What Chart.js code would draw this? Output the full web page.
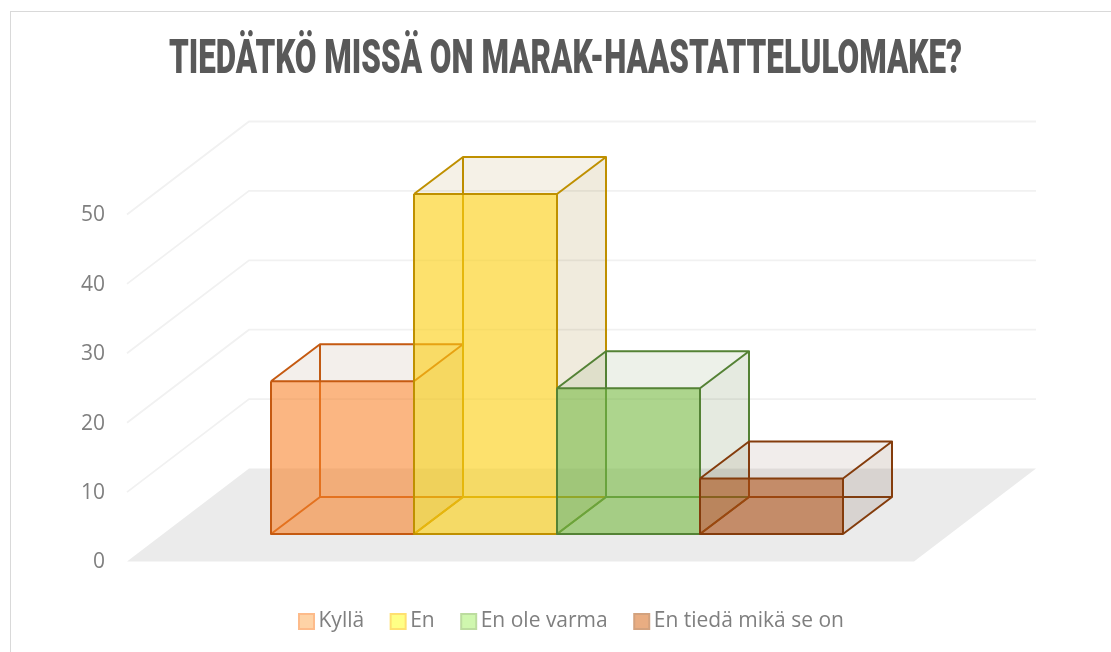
<!DOCTYPE html>
<html>
<head>
<meta charset="utf-8">
<script src="https://cdn.jsdelivr.net/npm/chart.js@4/dist/chart.umd.min.js"></script>
<style>
    html, body { margin: 0; background: #fff; overflow: hidden; }
    #wrap { position: relative; width: 1111px; height: 652px; }
    /* chart frame: runs off the right and bottom of the picture */
    #frame { position: absolute; left: 10px; top: 11px; right: -4px; bottom: -4px; border: 1.5px solid #d9d9d9; }
</style>
</head>
<body>
<div id="wrap">
    <canvas id="chart"></canvas>
    <div id="frame"></div>
</div>
<script>
const titleText = 'TIEDÄTKÖ MISSÄ ON MARAK-HAASTATTELULOMAKE?';
const categories = ['Vastaukset'];
const seriesNames = ['Kyllä', 'En', 'En ole varma', 'En tiedä mikä se on'];
const seriesValues = [22, 49, 21, 8];
const yMax = 50;
const yStep = 10;

const frontColors = ['rgba(252,132,43,.57)', 'rgba(255,210,20,.6)', 'rgba(120,187,68,.58)', 'rgba(172,77,17,.58)'];
const edgeColors = ['197,90,17', '191,144,0', '84,130,53', '132,60,12'];
const sideColors = ['140,90,50', '148,122,28', '75,108,48', '110,80,50'];
const swatchFills = ['#fed3a6', '#ffff85', '#cff7ae', '#e9ad82'];
const swatchEdges = ['#fdbb8a', '#ffe070', '#bcdc9f', '#d3a27e'];

// the fake 3D: how far the back wall and a box go into the picture
const wallDepth = { x: 122, y: -93 };
const boxDepth = { x: 49, y: -37 };
const boxShift = { x: 36.5, y: -27.5 };

function face(ctx, pts, fill) {
    ctx.beginPath();
    pts.forEach((p, i) => i ? ctx.lineTo(p[0], p[1]) : ctx.moveTo(p[0], p[1]));
    ctx.closePath();
    ctx.fillStyle = fill;
    ctx.fill();
}

function edges(ctx, lines, color) {
    ctx.strokeStyle = color;
    ctx.lineWidth = 2;
    ctx.lineJoin = 'round';
    ctx.beginPath();
    lines.forEach(l => {
        l.forEach((p, i) => i ? ctx.lineTo(p[0], p[1]) : ctx.moveTo(p[0], p[1]));
    });
    ctx.stroke();
}

function drawBox(ctx, bar, i) {
    const x0 = bar.x - bar.width / 2 + boxShift.x;
    const x1 = bar.x + bar.width / 2 + boxShift.x;
    const y0 = bar.y + boxShift.y;
    const y1 = bar.base + boxShift.y;
    const dx = boxDepth.x, dy = boxDepth.y;
    const edge = 'rgb(' + edgeColors[i] + ')';
    const soft = 'rgba(' + sideColors[i] + ',.05)';

    // faces behind the front
    face(ctx, [[x0, y1], [x1, y1], [x1 + dx, y1 + dy], [x0 + dx, y1 + dy]], soft);
    face(ctx, [[x0, y0], [x0 + dx, y0 + dy], [x0 + dx, y1 + dy], [x0, y1]], soft);
    face(ctx, [[x0 + dx, y0 + dy], [x1 + dx, y0 + dy], [x1 + dx, y1 + dy], [x0 + dx, y1 + dy]], soft);
    edges(ctx, [
        [[x0, y1], [x0 + dx, y1 + dy], [x1 + dx, y1 + dy]],
        [[x0 + dx, y0 + dy], [x0 + dx, y1 + dy]]
    ], edge);

    // the front is the real bar element, only moved onto the floor
    ctx.save();
    ctx.translate(boxShift.x, boxShift.y);
    bar.draw(ctx);
    ctx.restore();

    face(ctx, [[x1, y0], [x1 + dx, y0 + dy], [x1 + dx, y1 + dy], [x1, y1]], 'rgba(' + sideColors[i] + ',.1)');
    face(ctx, [[x0, y0], [x0 + dx, y0 + dy], [x1 + dx, y0 + dy], [x1, y0]], soft);
    edges(ctx, [
        [[x0, y0], [x1, y0], [x1, y1], [x0, y1], [x0, y0]],
        [[x0, y0], [x0 + dx, y0 + dy], [x1 + dx, y0 + dy], [x1 + dx, y1 + dy], [x1, y1]],
        [[x1, y0], [x1 + dx, y0 + dy]]
    ], edge);
}

const box3d = {
    id: 'box3d',
    beforeDatasetsDraw(chart) {
        const ctx = chart.ctx;
        const y = chart.scales.y;
        const area = chart.chartArea;
        const floor = y.getPixelForValue(0);

        ctx.save();
        face(ctx, [
            [area.left, floor],
            [area.right, floor],
            [area.right + wallDepth.x, floor + wallDepth.y],
            [area.left + wallDepth.x, floor + wallDepth.y]
        ], '#ebebeb');

        ctx.strokeStyle = '#f1f1f1';
        ctx.lineWidth = 1.8;
        y.ticks.forEach(t => {
            if (t.value === 0) return;
            const py = y.getPixelForValue(t.value);
            ctx.beginPath();
            ctx.moveTo(area.left, py);
            ctx.lineTo(area.left + wallDepth.x, py + wallDepth.y);
            ctx.lineTo(area.right + wallDepth.x, py + wallDepth.y);
            ctx.stroke();
        });

        // series in their own order, later boxes lie over earlier ones
        chart.data.datasets.forEach((ds, i) => {
            chart.getDatasetMeta(i).data.forEach(bar => drawBox(ctx, bar, i));
        });
        ctx.restore();
        return false;
    }
};

// title font is wider than the original, so squeeze it to 793px and move it over
const titleFit = {
    id: 'titleFit',
    afterLayout(chart) {
        const box = chart.titleBlock;
        if (box._fitted) return;
        box._fitted = true;
        const draw = box.draw;
        box.draw = function () {
            const ctx = chart.ctx;
            const { left, right } = box;
            ctx.save();
            ctx.font = Chart.helpers.toFont(box.options.font).string;
            const squeeze = 793 / ctx.measureText(titleText).width;
            ctx.translate(565.5, 0);
            ctx.scale(squeeze, 1);
            // wide box so the title plugin does not shrink the text by itself
            box.left = -2000;
            box.right = 2000;
            draw.call(box);
            box.left = left;
            box.right = right;
            ctx.restore();
        };
    }
};

// legend row, the gap between swatch and text is tighter than the built-in one
const legendRow = {
    id: 'legendRow',
    afterDraw(chart) {
        const ctx = chart.ctx;
        let x = 299;
        ctx.save();
        ctx.font = "21px 'Open Sans'";
        ctx.textBaseline = 'middle';
        seriesNames.forEach((name, i) => {
            ctx.fillStyle = swatchFills[i];
            ctx.strokeStyle = swatchEdges[i];
            ctx.lineWidth = 2;
            ctx.fillRect(x, 614, 15, 15);
            ctx.strokeRect(x, 614, 15, 15);
            ctx.fillStyle = '#7f7f7f';
            ctx.fillText(name, x + 19.5, 621);
            x += 19.5 + ctx.measureText(name).width + 26.5;
        });
        ctx.restore();
    }
};

new Chart(document.getElementById('chart'), {
    type: 'bar',
    data: {
        labels: categories,
        datasets: seriesNames.map((name, i) => ({
            label: name,
            data: [seriesValues[i]],
            backgroundColor: frontColors[i],
            borderWidth: 0,
            barPercentage: 1,
            categoryPercentage: 572 / 787
        }))
    },
    options: {
        responsive: true,
        maintainAspectRatio: false,
        animation: false,
        layout: { padding: { left: 0, right: 197, top: 0, bottom: 90.5 } },
        plugins: {
            legend: { display: false },
            tooltip: { enabled: false },
            title: {
                display: true,
                text: titleText,
                color: '#595959',
                font: { family: "Roboto", size: 48, weight: '900' },
                padding: { top: 32, bottom: 124.9 }
            }
        },
        scales: {
            x: { display: false },
            y: {
                min: 0,
                max: yMax,
                afterFit: scale => { scale.width = 127; },
                grid: { display: false, drawTicks: false },
                border: { display: false },
                ticks: {
                    stepSize: yStep,
                    padding: 22,
                    labelOffset: 1,
                    color: '#7f7f7f',
                    font: { family: "'Open Sans'", size: 21 }
                }
            }
        }
    },
    plugins: [box3d, titleFit, legendRow]
});
</script>
</body>
</html>
